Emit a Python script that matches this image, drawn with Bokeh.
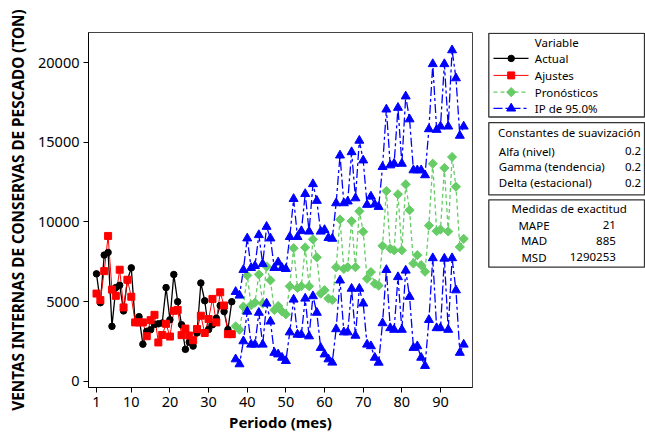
import numpy as np
from bokeh.plotting import figure
from bokeh.models import Range1d, FixedTicker, NumeralTickFormatter
from bokeh.layouts import row
from bokeh.embed import file_html
from bokeh.resources import INLINE
from bokeh.core.properties import value

# ---------------- data ----------------
periods_hist = list(range(1, 37))
actual = [6740, 4925, 7920, 8085, 3440, 5875, 6020, 4410, 6350, 7115,
          3690, 4050, 2320, 3130, 3230, 3550, 3600, 3650, 5875, 3855,
          6700, 4990, 3545, 1995, 2450, 2200, 3025, 6165, 5050, 3240,
          3540, 3950, 4750, 4370, 3240, 4990]
fits = [5500, 5090, 6910, 9120, 5750, 5360, 7000, 4630, 6370, 5300,
        3690, 3690, 3690, 2820, 3830, 4165, 2430, 2900, 3600, 2800,
        4420, 4475, 2890, 3300, 2860, 2570, 3270, 4110, 3025, 3900,
        5165, 3690, 5580, 4750, 2950, 2950]

periods_fc = list(range(37, 97))
forecast = [3440, 3230, 4680, 6640, 4780, 4925, 6700, 4880, 7200, 6330, 4470, 4720,
            4370, 4200, 5960, 8350, 5855, 5960, 8395, 5960, 8910, 7776, 5500, 5710,
            5190, 5100, 7156, 10150, 7050, 7156, 10050, 7156, 10670, 9387, 6430, 6850,
            6120, 6000, 8500, 11940, 8320, 8220, 11740, 8220, 12360, 10740, 7390, 7910,
            7284, 6873, 9770, 13660, 9420, 9520, 13390, 9400, 14080, 12210, 8430, 8940]
upper = [5610, 5380, 6990, 8970, 7115, 7240, 9180, 7360, 9700, 8970, 7115, 7466,
         7115, 7050, 9060, 11450, 9060, 9430, 11760, 9400, 12380, 11330, 9400, 9500,
         9000, 8950, 11180, 14180, 11180, 11290, 14390, 11490, 15110, 13870, 11080, 11600,
         11100, 10950, 13460, 17070, 13560, 13660, 17175, 13660, 17890, 16450, 13250, 13250,
         13250, 12940, 15830, 19920, 15790, 16000, 19920, 16000, 20790, 19030, 15420, 16000]
lower = [1375, 1065, 2510, 4370, 2300, 2300, 4300, 2300, 4880, 3750, 1785, 1685,
         1475, 1270, 3070, 5130, 2925, 2925, 5190, 2820, 5340, 4300, 2095, 1685,
         1375, 1170, 3270, 6330, 3070, 3070, 5810, 2860, 5810, 4880, 2300, 2200,
         1475, 1165, 3645, 6990, 3335, 3230, 6540, 3230, 6950, 5300, 2095, 2200,
         1475, 960, 3850, 7730, 3335, 3335, 7700, 3230, 7730, 5710, 1785, 2300]

x_ticks = [1, 10, 20, 30, 40, 50, 60, 70, 80, 90]
y_ticks = [0, 5000, 10000, 15000, 20000]

legend_title = "Variable"
legend_labels = ["Actual", "Ajustes", "Pronósticos", "IP de 95.0%"]
smoothing_title = "Constantes de suavización"
smoothing_labels = ["Alfa (nivel)", "Gamma (tendencia)", "Delta (estacional)"]
smoothing_values = ["0.2", "0.2", "0.2"]
accuracy_title = "Medidas de exactitud"
accuracy_labels = ["MAPE", "MAD", "MSD"]
accuracy_values = ["21", "885", "1290253"]

# ---------------- styles ----------------
FONT = "Noto Sans"
GREEN = "#66CC66"
BLUE = "#0000FF"
RED = "#FF0000"
styles = [
    dict(color="black", dash="solid", marker="circle", size=6.5, angle=0.0, width=1.3),
    dict(color=RED, dash="solid", marker="square", size=7, angle=0.0, width=1.0),
    dict(color=GREEN, dash="4 3", marker="square", size=6.5, angle=np.pi / 4, width=1.3),
    dict(color=BLUE, dash="9 3 3 3", marker="triangle", size=9, angle=0.0, width=1.3),
]

# ---------------- main plot ----------------
p = figure(width=483, height=434, output_backend="svg", toolbar_location=None,
           x_range=Range1d(-1.07, 98.28), y_range=Range1d(-400, 21900),
           min_border_left=88, min_border_right=11, min_border_top=32, min_border_bottom=42)
p.grid.visible = False
p.outline_line_color = "#444444"
p.background_fill_color = "white"
p.border_fill_color = "white"
p.xaxis.ticker = FixedTicker(ticks=x_ticks)
p.yaxis.ticker = FixedTicker(ticks=y_ticks)
p.yaxis.formatter = NumeralTickFormatter(format="0")
p.xaxis.axis_label = "Periodo (mes)"
p.yaxis.axis_label = "VENTAS INTERNAS DE CONSERVAS DE PESCADO (TON)"
for ax in p.axis:
    ax.major_label_text_font = FONT
    ax.major_label_text_font_size = "14.5px"
    ax.major_label_text_color = "black"
    ax.axis_label_text_font = FONT
    ax.axis_label_text_font_style = "bold"
    ax.axis_label_text_color = "black"
    ax.major_tick_in = 0
    ax.major_tick_out = 5
    ax.minor_tick_line_color = None
    ax.axis_line_color = "black"
    ax.major_tick_line_color = "black"
    ax.major_label_standoff = 4
p.xaxis.axis_label_text_font_size = "15px"
p.yaxis.axis_label_text_font_size = "15.3px"
p.xaxis.axis_label_standoff = 2
p.yaxis.axis_label_standoff = 7

series = [(periods_hist, actual, styles[0]),
          (periods_hist, fits, styles[1]),
          (periods_fc, forecast, styles[2]),
          (periods_fc, upper, styles[3]),
          (periods_fc, lower, styles[3])]
for xs, ys, st in series:
    p.line(xs, ys, line_color=st["color"], line_width=st["width"], line_dash=st["dash"])
for xs, ys, st in series:
    p.scatter(xs, ys, marker=st["marker"], size=st["size"], angle=st["angle"],
              fill_color=st["color"], line_color=st["color"])

# ---------------- side panel (legend + tables) ----------------
# frame of this panel is aligned with the main frame (screen y 32..392),
# so the y range maps data units to screen pixels
p2 = figure(width=162, height=434, output_backend="svg", toolbar_location=None,
            x_range=Range1d(0, 162), y_range=Range1d(392, 32),
            x_axis_location=None, y_axis_location=None, min_border=0)
p2.grid.visible = False
p2.outline_line_color = None
p2.background_fill_color = "white"
p2.border_fill_color = "white"

p2.quad(left=[5.3, 5.3, 5.3], right=[161, 161, 161], top=[32.8, 123.3, 201.7],
        bottom=[117.7, 196.7, 270], fill_color=None, line_color="#333333", line_width=1.3)

TXT = dict(text_font=value(FONT), text_font_size=value("11.5px"), text_color="black",
           text_baseline="middle")
legend_rows = [58.3, 75.5, 92.5, 109]
p2.text(x=[51.3], y=[42.3], text=[legend_title], text_align="left", **TXT)
p2.text(x=[51.3] * 4, y=legend_rows, text=legend_labels, text_align="left", **TXT)
for yy, st in zip(legend_rows, styles):
    p2.line([10, 45], [yy, yy], line_color=st["color"], line_width=st["width"], line_dash=st["dash"])
    p2.scatter([27.7], [yy], marker=st["marker"], size=st["size"], angle=st["angle"],
               fill_color=st["color"], line_color=st["color"])

sm_rows = [152.3, 168.3, 184.3]
p2.text(x=[85.8], y=[133.3], text=[smoothing_title], text_align="center", **TXT)
p2.text(x=[15.3] * 3, y=sm_rows, text=smoothing_labels, text_align="left", **TXT)
p2.text(x=[157.7] * 3, y=sm_rows, text=smoothing_values, text_align="right", **TXT)

ac_rows = [227.3, 243.3, 260]
p2.text(x=[85.7], y=[210.7], text=[accuracy_title], text_align="center", **TXT)
p2.text(x=[50.5] * 3, y=ac_rows, text=accuracy_labels, text_align="center", **TXT)
p2.text(x=[132.3] * 3, y=ac_rows, text=accuracy_values, text_align="right", **TXT)

layout = row(p, p2)
open("out.html", "w").write(file_html(layout, INLINE, title="Winters"))
